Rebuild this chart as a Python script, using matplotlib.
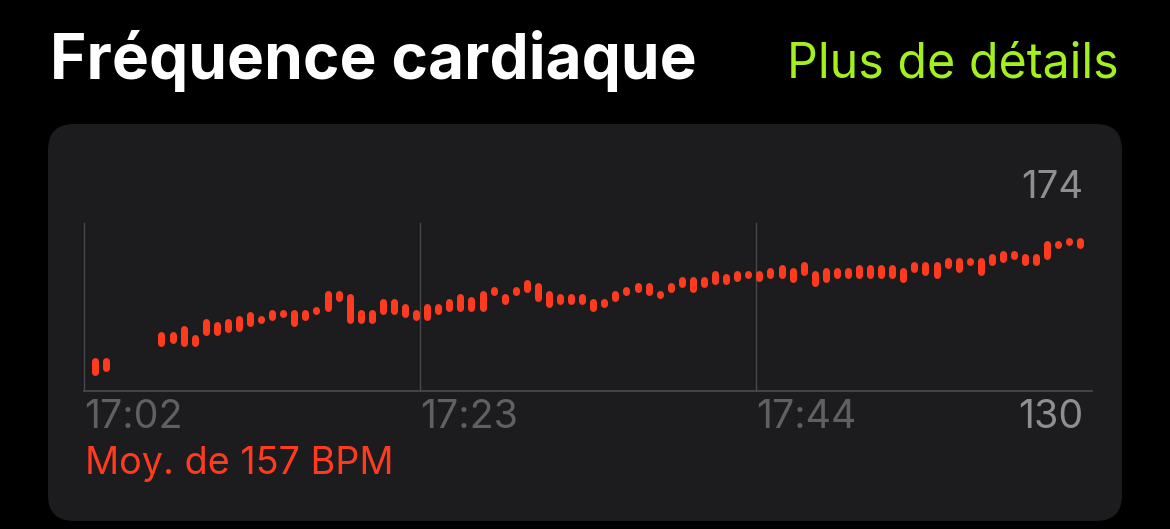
import numpy as np
import matplotlib
matplotlib.use("Agg")
import matplotlib.pyplot as plt
from matplotlib.patches import FancyBboxPatch
from matplotlib import transforms

# ---------------- data ----------------
title = "Fréquence cardiaque"
link_text = "Plus de détails"
avg_text = "Moy. de 157 BPM"
max_label = "174"
min_label = "130"
tick_minutes = [2, 23, 44]            # minutes after 17:00
tick_labels = ["17:02", "17:23", "17:44"]
start_minute = 2.69                   # first sample (minutes after 17:00)
sample_step = 0.692                   # minutes between samples

bpm_low = [130, 131, np.nan, np.nan, np.nan, np.nan, 139, 140, 139, 139,
           142.5, 142.5, 143.5, 144, 145.5, 146.5, 147.5, 148.5, 145.5, 147.5,
           149.5, 150.5, 153.5, 146.5, 146.5, 146.5, 149.5, 149.5, 148.5, 147.5,
           147.5, 149.5, 150.5, 150.5, 150.5, 150.5, 155.5, 152.5, 155.5, 156.5,
           153.5, 151.5, 152.5, 152.5, 152.5, 150.5, 151.5, 153.5, 155.5, 156.5,
           155.5, 154.5, 156.5, 158, 156.5, 158, 159, 159, 160, 161,
           160, 161, 161, 159.5, 162, 158.5, 159.5, 161, 161, 161,
           161, 161, 161, 159.5, 163, 162, 161, 164, 163, 165,
           162, 165, 166, 167, 165, 165, 167, 170.5, 171.5, 170.5]
bpm_high = [135.5, 135.5, np.nan, np.nan, np.nan, np.nan, 144, 144, 146, 143,
            148, 147, 148, 149, 150.5, 149, 151, 151, 151, 151,
            152, 157, 157, 156, 151, 151, 154.5, 154.5, 153, 151,
            153, 153, 154.5, 156, 155, 157, 158.5, 156, 158.5, 160.5,
            159.5, 157, 156, 156, 156, 154.5, 154.5, 157, 158.5, 159.5,
            159.5, 157, 159.5, 161.5, 161.5, 161.5, 163.5, 162.5, 163.5, 163.5,
            163.5, 164.5, 165.5, 164.5, 166.5, 163.5, 164.5, 164.5, 164.5, 165.5,
            165.5, 165.5, 165.5, 164.5, 166.5, 166.5, 166.5, 167.5, 167.5, 167.5,
            167.5, 169, 170, 170, 169, 169, 173, 173, 174, 174]

# ---------------- style ----------------
W, H = 1170, 529
BG = "#000000"
CARD = "#1c1c1e"
BAR = "#ff3b1f"
GRID = "#48484a"
DIM = "#5f5f64"
LIGHT = "#8e8e93"
LIME = "#a3f01e"
FONT = ["Inter", "DejaVu Sans"]

fig = plt.figure(figsize=(W / 100, H / 100), dpi=100, facecolor=BG)
plt.rcParams["font.family"] = FONT
plt.rcParams["path.simplify"] = False


def fx(px):
    return px / W


def fy(py):
    return 1 - py / H


# card background (pixel coordinates)
card = FancyBboxPatch((48, H - 521), 1122 - 48, 521 - 124,
                      boxstyle="round,pad=0,rounding_size=26",
                      transform=transforms.IdentityTransform(),
                      facecolor=CARD, edgecolor="none", zorder=-5)
fig.patches.append(card)

# chart axes
ax_l, ax_r, ax_t, ax_b = 84, 1092, 223, 390.7
ax = fig.add_axes([fx(ax_l), fy(ax_b), fx(ax_r - ax_l), (ax_b - ax_t) / H])
ax.set_zorder(2)
ax.set_facecolor("none")
ax.patch.set_visible(False)
ax.set_xlim(tick_minutes[0], tick_minutes[0] + 63)
ax.set_ylim(124.97, 178.7)
for s in ax.spines.values():
    s.set_visible(False)
ax.set_xticks([])
ax.set_yticks([])

ax.axhline(ax.get_ylim()[0], color=GRID, lw=1.3, zorder=1, clip_on=False)
for t in tick_minutes:
    ax.axvline(t, color=GRID, lw=1.0, zorder=1, clip_on=False)

x = start_minute + sample_step * np.arange(len(bpm_low))
low = np.array(bpm_low, dtype=float)
high = np.array(bpm_high, dtype=float)

bar_px = 7.0
px_per_bpm = (ax_b - ax_t) / (ax.get_ylim()[1] - ax.get_ylim()[0])
shrink = (bar_px / 2) / px_per_bpm
min_len = 1.2 / px_per_bpm
ok = ~np.isnan(low)
lo = low[ok] + shrink
hi = high[ok] - shrink
mid = (lo + hi) / 2
short = (hi - lo) < min_len
lo = np.where(short, mid - min_len / 2, lo)
hi = np.where(short, mid + min_len / 2, hi)
lc = ax.vlines(x[ok], lo, hi, colors=BAR, linewidth=bar_px * 0.72, zorder=3)
lc.set_capstyle("round")

# texts
fig.text(fx(50), fy(79), title, color="white", fontsize=44.8, fontweight="bold",
         ha="left", va="baseline")
fig.text(fx(1119), fy(78), link_text, color=LIME, fontsize=34.8,
         ha="right", va="baseline")
fig.text(fx(1083), fy(198), max_label, color=LIGHT, fontsize=27.5,
         ha="right", va="baseline")
for t, lab in zip(tick_minutes, tick_labels):
    px = ax_l + (t - tick_minutes[0]) * (ax_r - ax_l) / 63
    fig.text(fx(px + 0.5), fy(428.3), lab, color=DIM, fontsize=28.3,
             ha="left", va="baseline")
fig.text(fx(1083), fy(428.3), min_label, color=LIGHT, fontsize=28.3,
         ha="right", va="baseline")
fig.text(fx(85), fy(474), avg_text, color=BAR, fontsize=27.2,
         ha="left", va="baseline")

fig.savefig("out.png", dpi=100, facecolor=BG)
